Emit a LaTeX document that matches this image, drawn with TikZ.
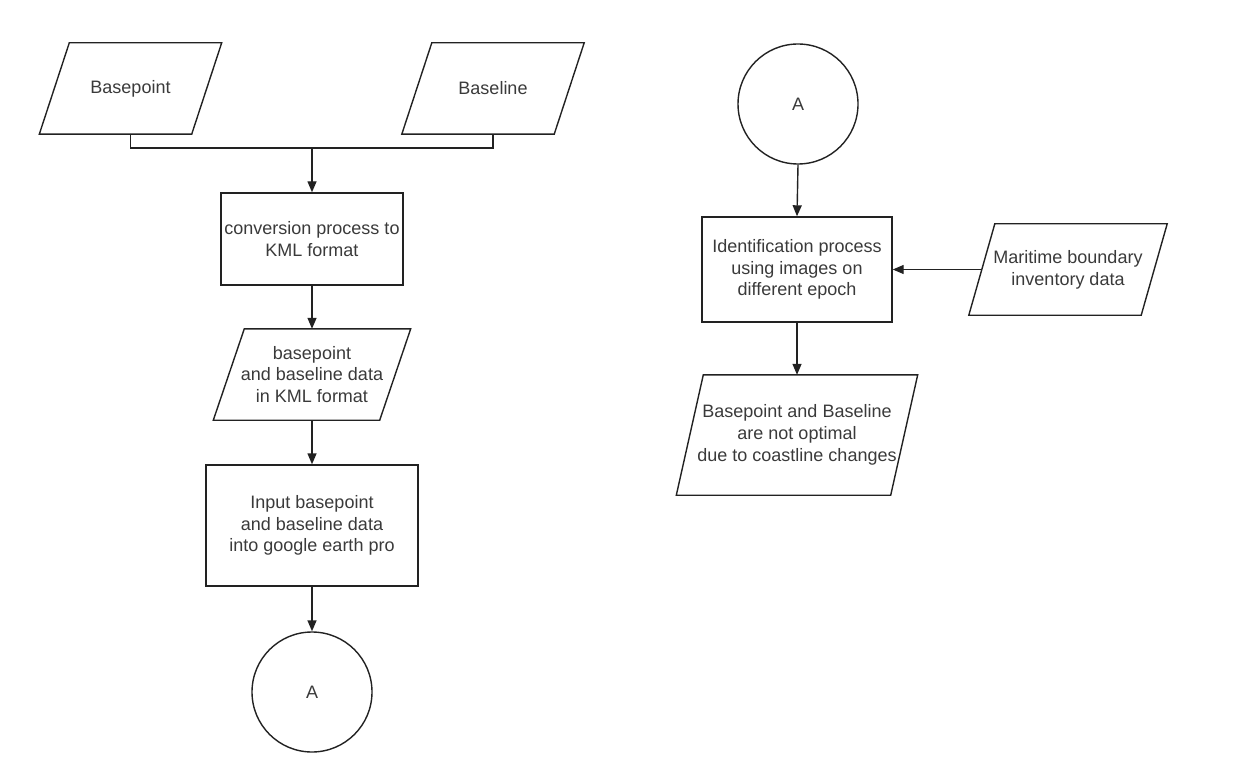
\documentclass[tikz,border=0pt]{standalone}
\usepackage{fontspec}
\setmainfont{Liberation Sans}
\usetikzlibrary{arrows.meta,shapes.geometric}
\definecolor{txt}{HTML}{3A3A3A}
\definecolor{ln}{HTML}{222222}
\tikzset{
  box/.style={draw=ln, line width=1.4pt, rectangle, inner sep=0pt, align=center, text=txt,
    font=\fontsize{18}{21.8}\selectfont},
  paratext/.style={rectangle, inner sep=0pt, align=center, text=txt,
    font=\fontsize{18}{21.8}\selectfont},
  conn/.style={draw=ln, line width=1.4pt, circle, inner sep=0pt, minimum size=120pt, text=txt,
    font=\fontsize{18}{21.8}\selectfont},
  line/.style={draw=ln, line width=1.4pt},
  arr/.style={line, -{Triangle[length=11pt,width=9pt]}},
}
\newcommand\drawpara[2]{%
  \draw[line] ([xshift=#2/2]#1.north west) -- ([xshift=#2/2]#1.north east)
    -- ([xshift=-#2/2]#1.south east) -- ([xshift=-#2/2]#1.south west) -- cycle;}
\begin{document}
\begin{tikzpicture}[x=1pt,y=-1pt]
\useasboundingbox (0,0) rectangle (1238,783);
% left column
\node[paratext, minimum width=152pt, minimum height=91pt] (bp) at (130.5,88.5) {Basepoint};
\drawpara{bp}{30pt}
\node[paratext, minimum width=152pt, minimum height=91pt] (bl) at (493,88.5) {Baseline};
\drawpara{bl}{30pt}
\node[box, minimum width=182pt, minimum height=92pt] (conv) at (312,239) {conversion process to\\KML format};
\node[paratext, minimum width=166pt, minimum height=91pt] (data) at (312,374.5) {basepoint\\and baseline data\\in KML format};
\drawpara{data}{31pt}
\node[box, minimum width=212pt, minimum height=121pt] (inp) at (312,525.5) {Input basepoint\\and baseline data\\into google earth pro};
\node[conn] (ca) at (312,692) {A};
\coordinate (j) at (312,148);
\draw[line] (bp.south) |- (j) -| (bl.south);
\draw[arr] (j) -- (conv.north);
\draw[arr] (conv.south) -- (data.north);
\draw[arr] (data.south) -- (inp.north);
\draw[arr] (inp.south) -- (ca.north);
% right column
\node[conn] (cb) at (798,104) {A};
\node[box, minimum width=190pt, minimum height=105pt] (ident) at (797,269.5) {Identification process\\using images on\\different epoch};
\node[paratext, minimum width=172pt, minimum height=91pt] (mar) at (1068,269.5) {Maritime boundary\\inventory data};
\drawpara{mar}{26pt}
\node[paratext, minimum width=214pt, minimum height=120pt] (out) at (797,435) {Basepoint and Baseline\\are not optimal\\due to coastline changes};
\drawpara{out}{27pt}
\draw[arr] (cb.south) -- (ident.north);
\draw[arr] (ident.south) -- (out.north);
\draw[arr] (mar.west) -- (ident.east);
\end{tikzpicture}
\end{document}
